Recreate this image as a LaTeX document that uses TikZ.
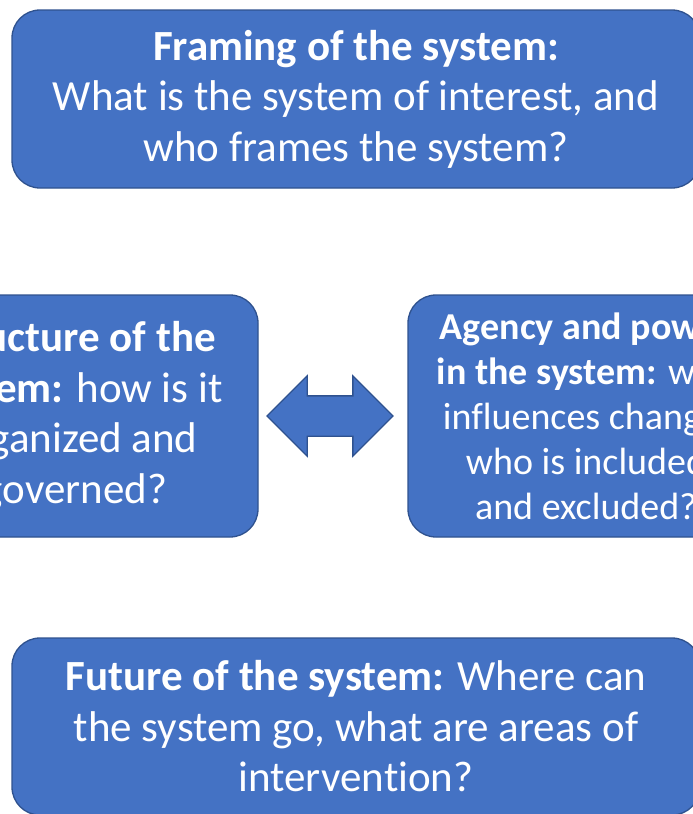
\documentclass[tikz,border=0pt]{standalone}
\usepackage{fontspec}
\setmainfont{Carlito}[RawFeature=-liga]
\usetikzlibrary{shapes.arrows}
\definecolor{cardfill}{HTML}{4472C4}
\definecolor{cardline}{HTML}{2F528F}
\begin{document}
\begin{tikzpicture}[x=1pt,y=-1pt,
  card/.style={draw=cardline,line width=1.3pt,fill=cardfill,text=white,
    rounded corners=28pt,align=center,inner sep=0pt},
  bigtext/.style={font=\fontsize{43}{50.5}\selectfont},
  smalltext/.style={font=\fontsize{38}{45}\selectfont}]
\useasboundingbox (0,0) rectangle (693,814);
\clip (0,0) rectangle (693,814);
% the four question boxes
\node[card,bigtext,minimum width=688pt,minimum height=178pt] (framing) at (356,99)
  {\textbf{Framing of the system:}\\What is the system of interest, and\\who frames the system?};
\node[card,bigtext,minimum width=366pt,minimum height=242pt] (structure) at (75,416)
  {\textbf{Structure of the}\\\textbf{system:} how is it\\organized and\\governed?};
\node[card,smalltext,minimum width=356pt,minimum height=242pt] (agency) at (586,416)
  {\textbf{Agency and power}\\\textbf{in the system:} who\\influences change,\\who is included\\and excluded?};
\node[card,bigtext,minimum width=688pt,minimum height=177pt] (future) at (356,726.5)
  {\textbf{Future of the system:} Where can\\the system go, what are areas of\\intervention?};
% block arrow between structure and agency
\node[double arrow,draw=cardline,line width=1.3pt,fill=cardfill,
  inner xsep=0pt,inner ysep=19.5pt,minimum height=126pt,
  double arrow head extend=20pt] (link) at (330,416) {};
\end{tikzpicture}
\end{document}
